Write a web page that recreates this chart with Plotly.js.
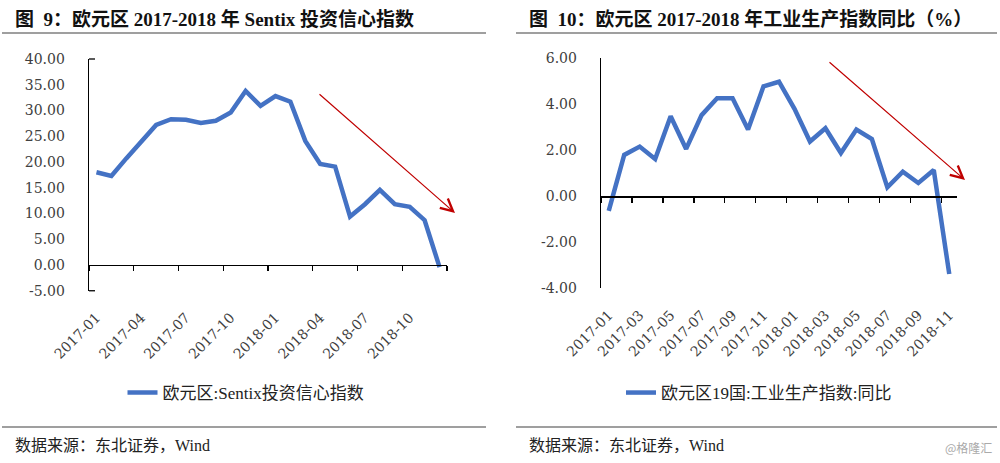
<!DOCTYPE html>
<html>
<head>
<meta charset="utf-8">
<script src="https://cdn.plot.ly/plotly-3.0.1.min.js"></script>
<style>
html,body{margin:0;padding:0;background:#fff;}
#chart{width:1000px;height:463px;}
</style>
</head>
<body>
<div id="chart"></div>
<script>
// ---- Data ----
const leftCategories = ['2017-01','2017-02','2017-03','2017-04','2017-05','2017-06','2017-07','2017-08','2017-09','2017-10','2017-11','2017-12',
  '2018-01','2018-02','2018-03','2018-04','2018-05','2018-06','2018-07','2018-08','2018-09','2018-10','2018-11','2018-12'];
const sentixValues = [18.0,17.3,20.7,23.9,27.2,28.3,28.2,27.6,28.0,29.6,33.8,30.9,
  32.8,31.7,24.1,19.6,19.1,9.4,11.8,14.6,11.8,11.3,8.7,-0.4];
const leftTickLabels = ['2017-01','2017-04','2017-07','2017-10','2018-01','2018-04','2018-07','2018-10'];
const leftYTicks = [-5,0,5,10,15,20,25,30,35,40];

const rightCategories = ['2017-01','2017-02','2017-03','2017-04','2017-05','2017-06','2017-07','2017-08','2017-09','2017-10','2017-11','2017-12',
  '2018-01','2018-02','2018-03','2018-04','2018-05','2018-06','2018-07','2018-08','2018-09','2018-10','2018-11'];
const ipValues = [-0.63,1.80,2.16,1.62,3.48,2.06,3.53,4.26,4.26,2.90,4.78,4.98,
  3.80,2.38,2.96,1.88,2.90,2.49,0.39,1.07,0.58,1.14,-3.38];
const rightTickLabels = ['2017-01','2017-03','2017-05','2017-07','2017-09','2017-11','2018-01','2018-03','2018-05','2018-07','2018-09','2018-11'];
const rightYTicks = [-4,-2,0,2,4,6];

const leftTitle = '图&nbsp;&nbsp;9：欧元区 2017-2018 年 Sentix 投资信心指数';
const rightTitle = '图&nbsp;&nbsp;10：欧元区 2017-2018 年工业生产指数同比（%）';
const leftLegend = '欧元区:Sentix投资信心指数';
const rightLegend = '欧元区19国:工业生产指数:同比';
const sourceText = '数据来源：东北证券，Wind';
const watermark = '@格隆汇';

// ---- Layout helpers ----
const W = 1000, H = 463;
const px = v => v / W;
const py = v => 1 - v / H;
const serif = 'DejaVu Serif, Noto Sans CJK SC, serif';
const textFont = 'Liberation Serif, Noto Sans CJK SC, serif';
const tickFont = {family: serif, size: 14, color: '#404040'};

const leftRange = [-5, 40], rightRange = [-4, 6];
const leftYDom = [py(290.75), py(59)];
const rightYDom = [py(288.3), py(58.3)];
const zeroPos = (dom, r) => dom[0] + (0 - r[0]) / (r[1] - r[0]) * (dom[1] - dom[0]);

const leftBoundaryTicks = leftTickLabels.map(l => leftCategories.indexOf(l) - 0.5).concat([leftCategories.length - 0.5]);
const rightBoundaryTicks = rightTickLabels.map(l => rightCategories.indexOf(l) - 0.5);

const lineColor = '#4472C4';

const traces = [
  {x: leftCategories, y: sentixValues, type: 'scatter', mode: 'lines', name: leftLegend,
   line: {color: lineColor, width: 4.5}, xaxis: 'x', yaxis: 'y', legend: 'legend'},
  {x: rightCategories, y: ipValues, type: 'scatter', mode: 'lines', name: rightLegend,
   line: {color: lineColor, width: 4.5}, xaxis: 'x2', yaxis: 'y2', legend: 'legend2'},
  // invisible helpers so the zero-level tick axes are drawn
  {x: leftCategories.map((c, i) => i), y: sentixValues, type: 'scatter', mode: 'lines', opacity: 0,
   line: {width: 0}, showlegend: false, hoverinfo: 'skip', xaxis: 'x3', yaxis: 'y'},
  {x: rightCategories.map((c, i) => i), y: ipValues, type: 'scatter', mode: 'lines', opacity: 0,
   line: {width: 0}, showlegend: false, hoverinfo: 'skip', xaxis: 'x4', yaxis: 'y2'}
];

const layout = {
  width: W, height: H,
  margin: {l: 0, r: 0, t: 0, b: 0},
  paper_bgcolor: '#fff', plot_bgcolor: 'rgba(0,0,0,0)',
  showlegend: true,
  xaxis: {domain: [px(89), px(447)], anchor: 'y', type: 'category', range: [-0.5, leftCategories.length - 0.5],
    showline: false, ticks: '', showgrid: false, zeroline: false, tickangle: -45,
    tickmode: 'array', tickvals: leftTickLabels, ticktext: leftTickLabels, tickfont: tickFont, ticklabelstandoff: 15},
  yaxis: {domain: leftYDom, anchor: 'x', range: leftRange, showline: true, linecolor: '#000', linewidth: 1.3,
    showgrid: false, zeroline: false, ticks: '', tickmode: 'array', tickvals: leftYTicks,
    ticktext: leftYTicks.map(v => v.toFixed(2)), tickfont: tickFont, ticklabelstandoff: 20},
  xaxis3: {overlaying: 'x', anchor: 'free', position: zeroPos(leftYDom, leftRange), type: 'linear',
    range: [-0.5, leftCategories.length - 0.5], autorange: false, showline: true, linecolor: '#000', linewidth: 1.3,
    ticks: 'outside', ticklen: 5, tickwidth: 1.3, tickcolor: '#000', tickmode: 'array', tickvals: leftBoundaryTicks,
    showticklabels: false, showgrid: false, zeroline: false},

  xaxis2: {domain: [px(601), px(957)], anchor: 'y2', type: 'category', range: [-0.5, rightCategories.length - 0.5],
    showline: false, ticks: '', showgrid: false, zeroline: false, tickangle: -45,
    tickmode: 'array', tickvals: rightTickLabels, ticktext: rightTickLabels, tickfont: tickFont, ticklabelstandoff: 15},
  yaxis2: {domain: rightYDom, anchor: 'x2', range: rightRange, showline: true, linecolor: '#000', linewidth: 1.3,
    showgrid: false, zeroline: false, ticks: '', tickmode: 'array', tickvals: rightYTicks,
    ticktext: rightYTicks.map(v => v.toFixed(2)), tickfont: tickFont, ticklabelstandoff: 20},
  xaxis4: {overlaying: 'x2', anchor: 'free', position: zeroPos(rightYDom, rightRange), type: 'linear',
    range: [-0.5, rightCategories.length - 0.5], autorange: false, showline: true, linecolor: '#000', linewidth: 1.3,
    ticks: 'outside', ticklen: 5, tickwidth: 1.3, tickcolor: '#000', tickmode: 'array', tickvals: rightBoundaryTicks,
    showticklabels: false, showgrid: false, zeroline: false},

  legend: {x: px(246), y: py(393), xanchor: 'center', yanchor: 'middle', orientation: 'h',
    font: {family: textFont, size: 17, color: '#222'}, bgcolor: 'rgba(0,0,0,0)'},
  legend2: {x: px(759), y: py(393), xanchor: 'center', yanchor: 'middle', orientation: 'h',
    font: {family: textFont, size: 17, color: '#222'}, bgcolor: 'rgba(0,0,0,0)'},

  shapes: [
    {type: 'line', xref: 'paper', yref: 'paper', x0: px(2), x1: px(486), y0: py(33), y1: py(33), line: {color: '#7f7f7f', width: 1.5}},
    {type: 'line', xref: 'paper', yref: 'paper', x0: px(516), x1: px(997), y0: py(33), y1: py(33), line: {color: '#7f7f7f', width: 1.5}},
    {type: 'line', xref: 'paper', yref: 'paper', x0: px(2), x1: px(486), y0: py(427), y1: py(427), line: {color: '#7f7f7f', width: 1.5}},
    {type: 'line', xref: 'paper', yref: 'paper', x0: px(516), x1: px(997), y0: py(427), y1: py(427), line: {color: '#7f7f7f', width: 1.5}},
    // small end ticks on the left value axis
    {type: 'line', xref: 'paper', yref: 'paper', x0: px(89), x1: px(95), y0: leftYDom[1], y1: leftYDom[1], line: {color: '#000', width: 1.3}},
    {type: 'line', xref: 'paper', yref: 'paper', x0: px(89), x1: px(95), y0: leftYDom[0], y1: leftYDom[0], line: {color: '#000', width: 1.3}}
  ],
  annotations: [
    {text: '<b>' + leftTitle + '</b>', xref: 'paper', yref: 'paper', x: px(13), y: py(19), xanchor: 'left', yanchor: 'middle',
     showarrow: false, font: {family: textFont, size: 19, color: '#111'}},
    {text: '<b>' + rightTitle + '</b>', xref: 'paper', yref: 'paper', x: px(527), y: py(19), xanchor: 'left', yanchor: 'middle',
     showarrow: false, font: {family: textFont, size: 19, color: '#111'}},
    {text: sourceText, xref: 'paper', yref: 'paper', x: px(13), y: py(445), xanchor: 'left', yanchor: 'middle',
     showarrow: false, font: {family: textFont, size: 16, color: '#222'}},
    {text: sourceText, xref: 'paper', yref: 'paper', x: px(527), y: py(445), xanchor: 'left', yanchor: 'middle',
     showarrow: false, font: {family: textFont, size: 16, color: '#222'}},
    {text: watermark, xref: 'paper', yref: 'paper', x: px(994), y: py(447), xanchor: 'right', yanchor: 'middle',
     showarrow: false, font: {family: 'Noto Sans CJK SC, sans-serif', size: 12, color: '#aaa'}},
    {text: '', xref: 'paper', yref: 'paper', x: px(455), y: py(213), ax: -137, ay: -120, showarrow: true,
     arrowhead: 5, arrowsize: 2, arrowwidth: 1.2, arrowcolor: '#C00000'},
    {text: '', xref: 'paper', yref: 'paper', x: px(965), y: py(180), ax: -137, ay: -119, showarrow: true,
     arrowhead: 5, arrowsize: 2, arrowwidth: 1.2, arrowcolor: '#C00000'}
  ]
};

Plotly.newPlot('chart', traces, layout, {displayModeBar: false, staticPlot: true});
</script>
</body>
</html>
